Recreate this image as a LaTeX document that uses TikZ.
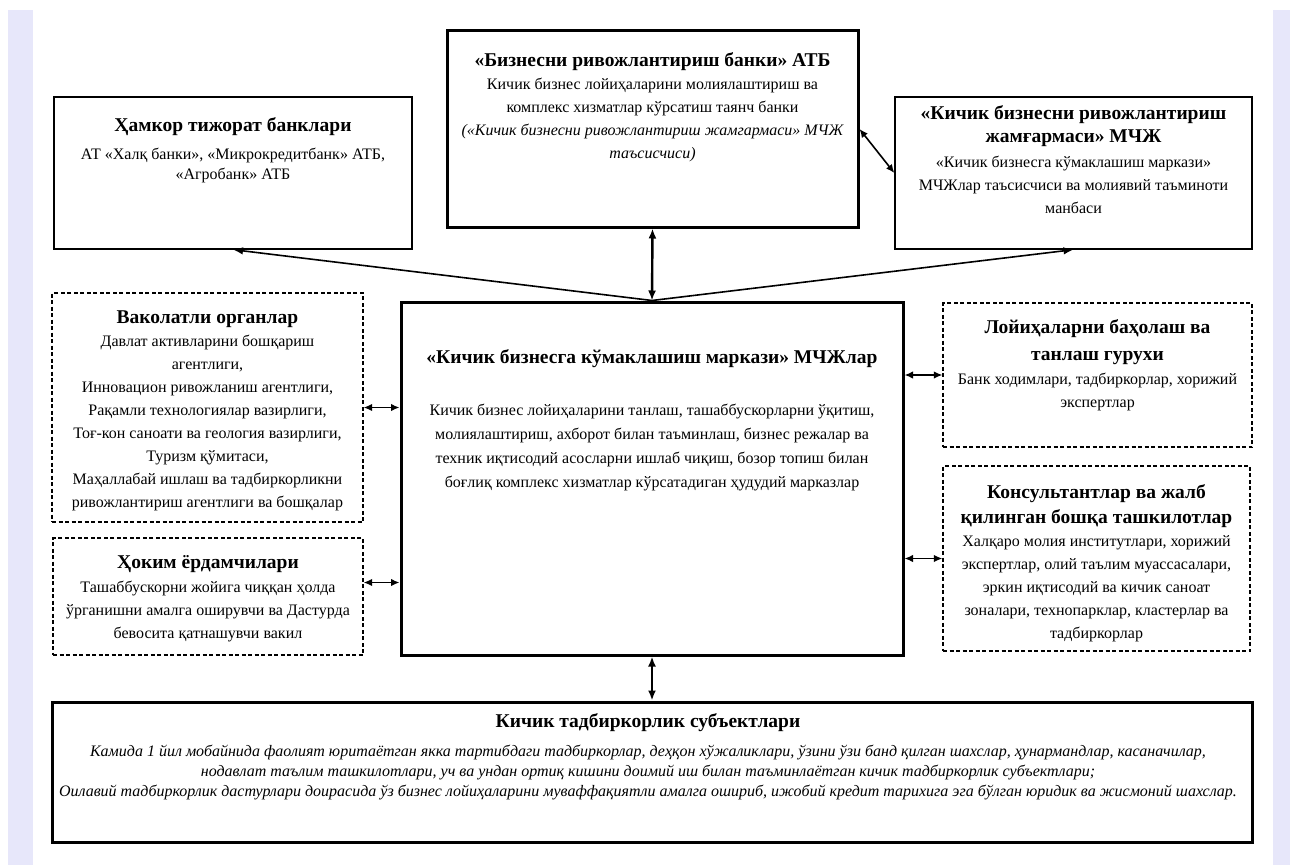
\documentclass[tikz,border=0pt]{standalone}
\usepackage{fontspec}
\setmainfont{Liberation Serif}
\usetikzlibrary{arrows.meta,calc}
\definecolor{lav}{RGB}{231,231,250}
\newcommand\ttl[1]{{\fontsize{19.5}{22}\selectfont\bfseries #1}}
\begin{document}
\begin{tikzpicture}[x=1pt,y=-1pt,
  thinbox/.style={draw, line width=1.3pt, inner sep=0pt},
  thickbox/.style={draw, line width=3pt, inner sep=0pt},
  dashbox/.style={draw, line width=1.2pt, dash pattern=on 4pt off 2.5pt, inner sep=0pt},
  txt/.style={anchor=north, align=center, inner sep=0pt, font=\fontsize{16}{23}\selectfont},
  arr/.style={-{Latex[length=10pt,width=7.5pt]}, line width=1.6pt},
  darr/.style={{Latex[length=8.5pt,width=7.5pt]}-{Latex[length=8.5pt,width=7.5pt]}, line width=1.6pt},
  tarr/.style={{Latex[length=10pt,width=8pt]}-{Latex[length=10pt,width=8pt]}, line width=2.4pt}]
\useasboundingbox (0,0) rectangle (1290,867);
\fill[lav] (8,10) rectangle (33,865);
\fill[lav] (1273,10) rectangle (1290,865);

% boxes
\node[thinbox, minimum width=358pt, minimum height=152pt] (hamkor) at (233,173) {};
\node[thickbox, minimum width=411pt, minimum height=196pt] (bank) at (652.5,129) {};
\node[thinbox, minimum width=357pt, minimum height=152pt] (fund) at (1073.5,173) {};
\node[dashbox, minimum width=311pt, minimum height=229pt] (vakol) at (207.5,407.5) {};
\node[dashbox, minimum width=310pt, minimum height=117pt] (hokim) at (208,596.5) {};
\node[thickbox, minimum width=502pt, minimum height=353pt] (center) at (652,478.5) {};
\node[dashbox, minimum width=309pt, minimum height=144pt] (loyiha) at (1097.5,375) {};
\node[dashbox, minimum width=307pt, minimum height=185pt] (konsult) at (1096.5,558.5) {};
\node[thickbox, minimum width=1200pt, minimum height=140pt] (bottom) at (652,772) {};

% texts
\node[txt, font=\fontsize{16}{20}\selectfont] (hamkorT) at (233,117) {\ttl{Ҳамкор тижорат банклари}\\[8pt]
АТ «Халқ банки», «Микрокредитбанк» АТБ,\\
«Агробанк» АТБ};

\node[txt, font=\fontsize{16}{23}\selectfont] (bankT) at (652.5,52) {\ttl{«Бизнесни ривожлантириш банки» АТБ}\\
Кичик бизнес лойиҳаларини молиялаштириш ва\\
комплекс хизматлар кўрсатиш таянч банки\\
\itshape(«Кичик бизнесни ривожлантириш жамгармаси» МЧЖ\\
\itshape таъсисчиси)};

\node[txt] (fundT) at (1073.5,105) {\ttl{«Кичик бизнесни ривожлантириш}\\
\ttl{жамғармаси» МЧЖ}\\[2pt]
«Кичик бизнесга кўмаклашиш маркази»\\
МЧЖлар таъсисчиси ва молиявий таъминоти\\
манбаси};

\node[txt] (vakolT) at (207.5,311) {\ttl{Ваколатли органлар}\\
Давлат активларини бошқариш\\
агентлиги,\\
Инновацион ривожланиш агентлиги,\\
Рақамли технологиялар вазирлиги,\\
Тоғ-кон саноати ва геология вазирлиги,\\
Туризм қўмитаси,\\
Маҳаллабай ишлаш ва тадбиркорликни\\
ривожлантириш агентлиги ва бошқалар};

\node[txt] (hokimT) at (208,555) {\ttl{Ҳоким ёрдамчилари}\\[1pt]
Ташаббускорни жойига чиққан ҳолда\\
ўрганишни амалга оширувчи ва Дастурда\\
бевосита қатнашувчи вакил};

\node[txt, font=\fontsize{16}{24}\selectfont] (centerT) at (652,349) {\ttl{«Кичик бизнесга кўмаклашиш маркази» МЧЖлар}\\[28pt]
Кичик бизнес лойиҳаларини танлаш, ташаббускорларни ўқитиш,\\
молиялаштириш, ахборот билан таъминлаш, бизнес режалар ва\\
техник иқтисодий асосларни ишлаб чиқиш, бозор топиш билан\\
боғлиқ комплекс хизматлар кўрсатадиган ҳудудий марказлар};

\node[txt] (loyihaT) at (1097.5,319) {\ttl{Лойиҳаларни баҳолаш ва}\\[4pt]
\ttl{танлаш гурухи}\\[1pt]
Банк ходимлари, тадбиркорлар, хорижий\\
экспертлар};

\node[txt] (konsultT) at (1096.5,484) {\ttl{Консультантлар ва жалб}\\[2pt]
\ttl{қилинган бошқа ташкилотлар}\\
Халқаро молия институтлари, хорижий\\
экспертлар, олий таълим муассасалари,\\
эркин иқтисодий ва кичик саноат\\
зоналари, технопарклар, кластерлар ва\\
тадбиркорлар};

\node[txt, font=\fontsize{16}{20}\selectfont\itshape] (bottomT) at (648,713) {\ttl{\upshape Кичик тадбиркорлик субъектлари}\\[9pt]
Камида 1 йил мобайнида фаолият юритаётган якка тартибдаги тадбиркорлар, деҳқон хўжаликлари, ўзини ўзи банд қилган шахслар, ҳунармандлар, касаначилар,\\
нодавлат таълим ташкилотлари, уч ва ундан ортиқ кишини доимий иш билан таъминлаётган кичик тадбиркорлик субъектлари;\\
Оилавий тадбиркорлик дастурлари доирасида ўз бизнес лойиҳаларини муваффақиятли амалга ошириб, ижобий кредит тарихига эга бўлган юридик ва жисмоний шахслар.};

% connectors
\draw[tarr] (bank.south) -- (center.north);
\draw[arr] (center.north) -- (hamkor.south);
\draw[arr] (center.north) -- (fund.south);
\draw[darr] (bank.east) -- (fund.west);
\draw[darr] (vakol.east) -- (vakol.east -| center.west);
\coordinate (hk) at ($(hokim.east)+(0,-14)$);
\draw[darr] (hk) -- (hk -| center.west);
\draw[darr] (loyiha.west) -- (loyiha.west -| center.east);
\draw[darr] (konsult.west) -- (konsult.west -| center.east);
\draw[tarr] (center.south) -- (bottom.north);
\end{tikzpicture}
\end{document}
